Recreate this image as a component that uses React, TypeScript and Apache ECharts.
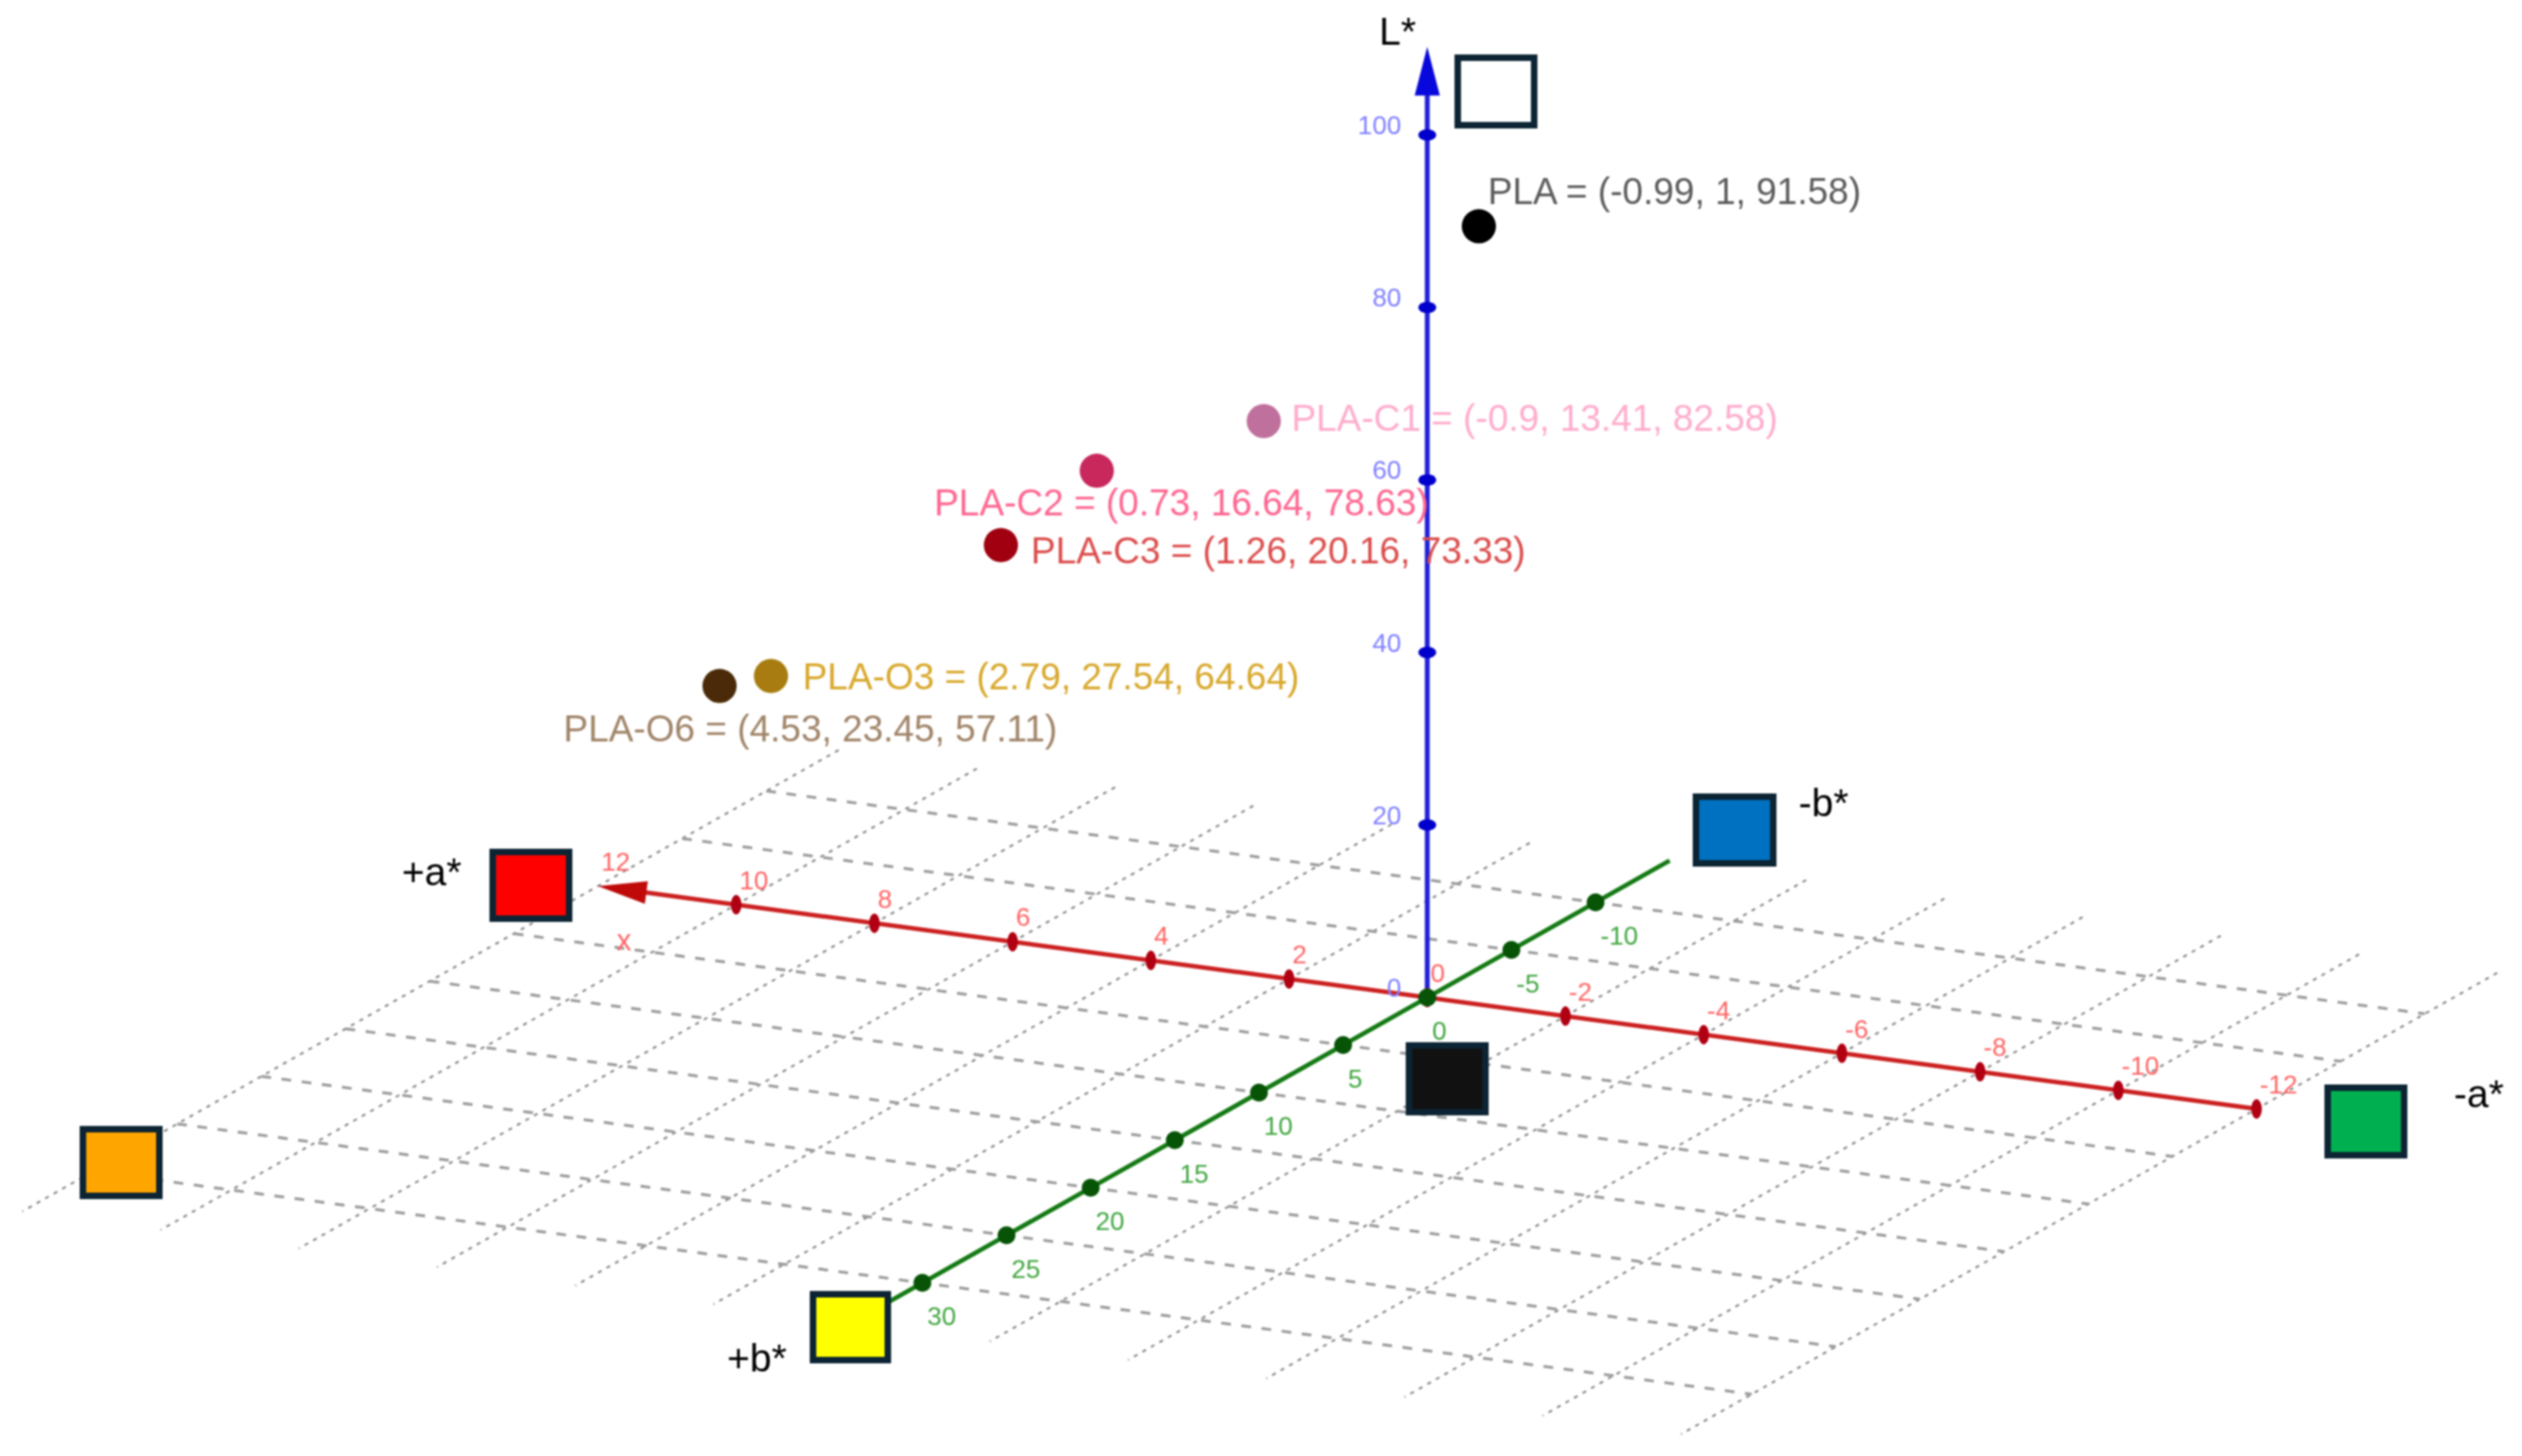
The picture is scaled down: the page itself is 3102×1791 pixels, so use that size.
import React, { useEffect, useRef } from "react";
import * as echarts from "echarts";

const aTicks = [12, 10, 8, 6, 4, 2, 0, -2, -4, -6, -8, -10, -12];
const bTicks = [-10, -5, 0, 5, 10, 15, 20, 25, 30];
const lTicks = [0, 20, 40, 60, 80, 100];
const gridA = [12, 10, 8, 6, 4, 2, -2, -4, -6, -8, -10, -12];
const gridB = [-10, -5, 5, 10, 15, 20, 25, 30];
const gridAExtent = [-12, 12];
const gridBExtent = [-14.3, 34.2];
const greenExtent = [-14.4, 34];
const redExtent = [-12, 11.6];
const blueExtent = [0, 107];

const sampleNames = ["PLA", "PLA-C1", "PLA-C2", "PLA-C3", "PLA-O3", "PLA-O6"];
const sampleA = [-0.99, -0.9, 0.73, 1.26, 2.79, 4.53];
const sampleB = [1, 13.41, 16.64, 20.16, 27.54, 23.45];
const sampleL = [91.58, 82.58, 78.63, 73.33, 64.64, 57.11];
const dotColors = ["#000000", "#c0709c", "#c8285c", "#a00010", "#a87c10", "#4a2a08"];
const textColors = ["#5c5c5c", "#ffaccd", "#ff6690", "#dc4c4c", "#d8a82c", "#a08468"];
const labelOffsets = [[11, -43], [34, -4], [-200, 39], [37, 7], [39, 1], [-192, 53]];

const swatches = [
  { fill: "#ffffff", x: 1789, y: 67, w: 102, h: 91 },
  { fill: "#ff0000", x: 602, y: 1044, w: 102, h: 90 },
  { fill: "#ffa500", x: 98, y: 1385, w: 102, h: 90 },
  { fill: "#ffff00", x: 996, y: 1588, w: 100, h: 89 },
  { fill: "#111111", x: 1729, y: 1282, w: 102, h: 90 },
  { fill: "#0070c0", x: 2082, y: 976, w: 103, h: 90 },
  { fill: "#00b050", x: 2859, y: 1334, w: 102, h: 91 },
];
const poleLabels = [
  { text: "L*", x: 1719, y: 38 },
  { text: "+a*", x: 531, y: 1072 },
  { text: "-b*", x: 2243, y: 987 },
  { text: "-a*", x: 3049, y: 1345 },
  { text: "+b*", x: 931, y: 1670 },
];

const FONT = "Liberation Sans";
const W = 3102;
const H = 1791;

// Parallel projection of (a*, b*, L*) onto the plane of the picture
function project(a: number, b: number, L: number): [number, number] {
  return [1755.5 - 85 * a - 20.7 * b, 1227 - 11.42 * a + 11.7 * b - 10.61 * L];
}

function lineSeries(data: number[][], color: string, width: number, type: any, z: number) {
  return {
    type: "line",
    data,
    symbol: "none",
    silent: true,
    z,
    lineStyle: { color, width, type, cap: "butt" },
  };
}

function tickSeries(
  data: number[][],
  labels: number[],
  size: number[],
  color: string,
  labelColor: string,
  align: string,
  offset: number[],
  hiddenTick?: number,
) {
  return {
    type: "scatter",
    silent: true,
    z: 6,
    symbol: "circle",
    symbolSize: size,
    itemStyle: { color, opacity: 1 },
    data: data.map((value, i) => ({
      value,
      tick: labels[i],
      itemStyle: labels[i] === hiddenTick ? { color: "rgba(0,0,0,0)" } : { color },
    })),
    label: {
      show: true,
      position: "inside",
      align,
      verticalAlign: "middle",
      offset,
      fontFamily: FONT,
      fontSize: 32,
      color: labelColor,
      formatter: (p: any) => String(p.data.tick),
    },
  };
}

export default function App() {
  const ref = useRef<HTMLDivElement>(null);
  useEffect(() => {
    document.body.style.margin = "0";
    const chart = echarts.init(ref.current!, null, { renderer: "svg" });
    const series: any[] = [];

    gridA.forEach((a) =>
      series.push(
        lineSeries([project(a, gridBExtent[0], 0), project(a, gridBExtent[1], 0)], "#8c8c8c", 2.5, [5, 7], 2),
      ),
    );
    gridB.forEach((b) =>
      series.push(
        lineSeries([project(gridAExtent[1], b, 0), project(gridAExtent[0], b, 0)], "#9c9c9c", 3.5, [12, 13], 2),
      ),
    );

    series.push(lineSeries([project(0, 0, blueExtent[0]), project(0, 0, blueExtent[1])], "#2020d8", 6, "solid", 3));
    series.push(lineSeries([project(redExtent[0], 0, 0), project(redExtent[1], 0, 0)], "#cc2020", 5.5, "solid", 4));
    series.push(lineSeries([project(0, greenExtent[0], 0), project(0, greenExtent[1], 0)], "#147a14", 5.5, "solid", 5));

    series.push(tickSeries(lTicks.map((L) => project(0, 0, L)), lTicks, [22, 14], "#0000cc", "#8080ff", "right", [-32, -12]));
    series.push(tickSeries(aTicks.map((a) => project(a, 0, 0)), aTicks, [13, 24], "#b00012", "#ff6464", "left", [4, -30], 12));
    series.push(tickSeries(bTicks.map((b) => project(0, b, 0)), bTicks, [22, 22], "#075407", "#40a640", "left", [6, 41]));

    // Arrow heads
    series.push({
      type: "scatter",
      silent: true,
      z: 6,
      symbol: "triangle",
      symbolSize: [31, 60],
      itemStyle: { color: "#0808dc", opacity: 1 },
      data: [project(0, 0, 107.4)],
    });
    series.push({
      type: "scatter",
      silent: true,
      z: 6,
      symbol: "triangle",
      symbolSize: [28, 60],
      symbolRotate: 82.4,
      itemStyle: { color: "#c00a0a", opacity: 1 },
      data: [project(11.65, 0, 0)],
    });

    // The six samples
    sampleNames.forEach((name, i) => {
      const text = `${name} = (${sampleA[i]}, ${sampleB[i]}, ${sampleL[i]})`;
      series.push({
        type: "scatter",
        silent: true,
        z: 8,
        symbol: "circle",
        symbolSize: 42,
        itemStyle: { color: dotColors[i], opacity: 1 },
        data: [project(sampleA[i], sampleB[i], sampleL[i])],
        label: {
          show: true,
          position: "inside",
          align: "left",
          verticalAlign: "middle",
          offset: labelOffsets[i],
          fontFamily: FONT,
          fontSize: 45.5,
          color: textColors[i],
          formatter: () => text,
        },
      });
    });

    const [ax, ay] = project(12, 0, 0);
    const graphic: any[] = [
      ...swatches.map((s) => ({
        type: "rect",
        z: 50,
        silent: true,
        shape: { x: s.x + 4, y: s.y + 4, width: s.w - 8, height: s.h - 8 },
        style: { fill: s.fill, stroke: "#0c2433", lineWidth: 8 },
      })),
      ...poleLabels.map((t) => ({
        type: "text",
        z: 50,
        silent: true,
        x: t.x,
        y: t.y,
        style: { text: t.text, fontFamily: FONT, fontSize: 48, fill: "#000000", align: "center", verticalAlign: "middle" },
      })),
      {
        type: "text",
        z: 50,
        silent: true,
        x: ax + 32,
        y: ay + 67,
        style: { text: "x", fontFamily: FONT, fontSize: 36, fill: "#ff6464", align: "center", verticalAlign: "middle" },
      },
    ];

    chart.setOption({
      animation: false,
      backgroundColor: "#ffffff",
      grid: { left: 0, top: 0, width: W, height: H, containLabel: false },
      xAxis: { type: "value", min: 0, max: W, show: false },
      yAxis: { type: "value", min: 0, max: H, inverse: true, show: false },
      series,
      graphic,
    });
    return () => chart.dispose();
  }, []);
  return (
    <div
      ref={ref}
      style={{ position: "fixed", left: 0, top: 0, width: W, height: H, filter: "blur(1px)" }}
    />
  );
}
